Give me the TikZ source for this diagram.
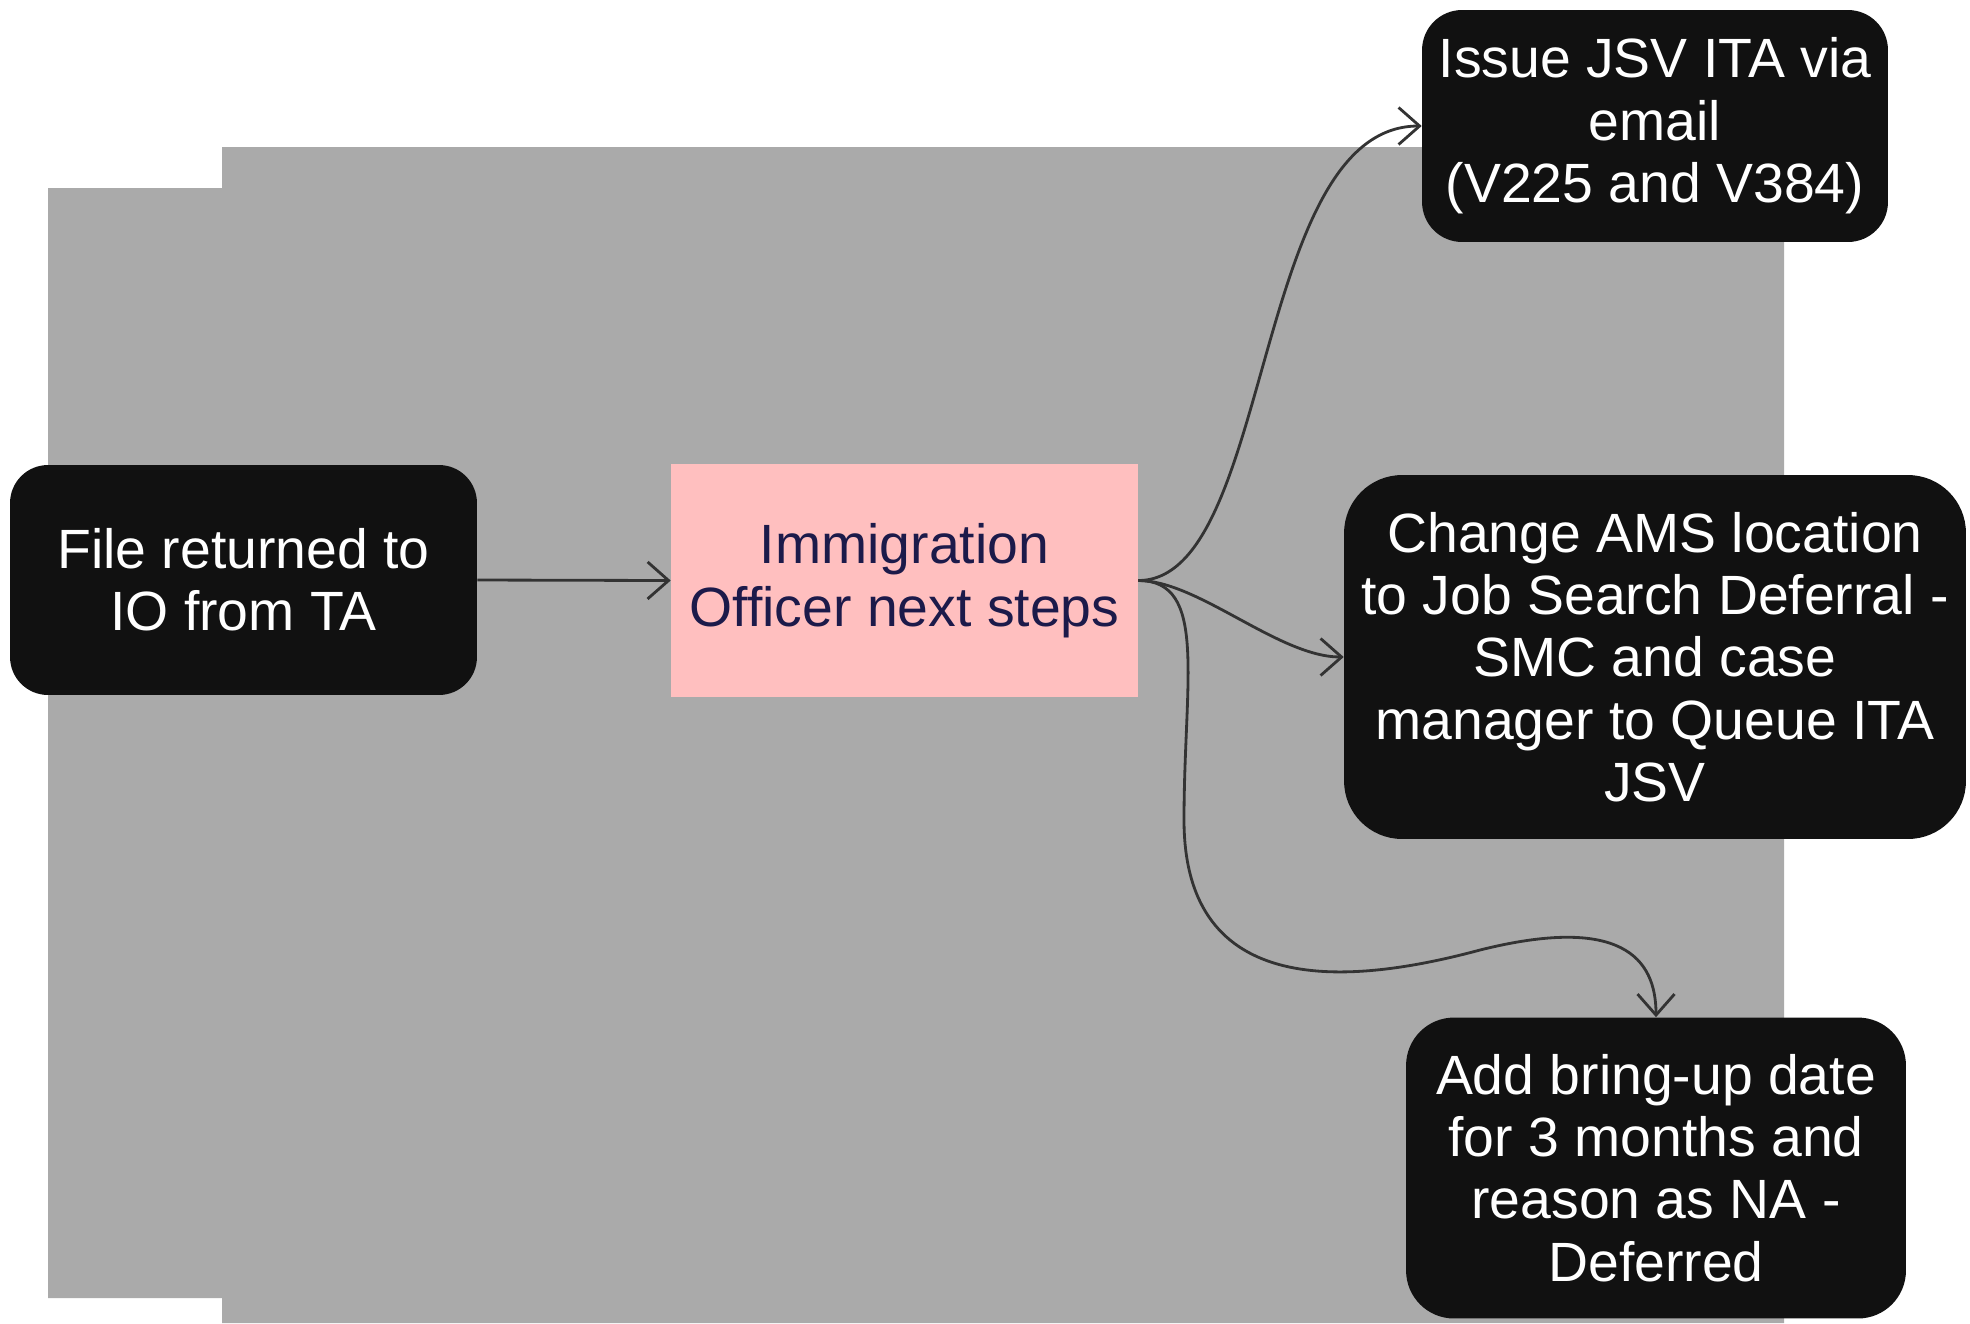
\documentclass[tikz,border=0pt]{standalone}
\usepackage{fontspec}
\setsansfont{Liberation Sans}
\usetikzlibrary{arrows.meta}
\definecolor{boxblack}{HTML}{111111}
\definecolor{pinkfill}{HTML}{FFBFBF}
\definecolor{navytext}{HTML}{1C1A4A}
\definecolor{bggray}{HTML}{AAAAAA}
\definecolor{linegray}{HTML}{333333}

\begin{document}
\begin{tikzpicture}[x=0.02cm,y=-0.02cm,font=\sffamily\fontsize{31.5}{35.5}\selectfont,
  >={Straight Barb[length=0.42cm,width=0.74cm]},
  darkbox/.style={fill=boxblack,text=white,align=center,inner sep=0pt},
  pinkbox/.style={fill=pinkfill,text=navytext,align=center,inner sep=0pt},
  link/.style={->,draw=linegray,line width=1.6pt}]
\useasboundingbox (0,0) rectangle (1970,1323);

% ===== grey backdrop =====
\fill[bggray] (48,188) -- (222,188) -- (222,147) -- (1784,147) -- (1784,1323)
  -- (222,1323) -- (222,1298) -- (48,1298) -- cycle;

% ===== boxes =====
\node[darkbox,rounded corners=0.76cm,minimum width=9.34cm,minimum height=4.6cm] (file) at (243.5,580)
  {File returned to\\IO from TA};
\node[pinkbox,minimum width=9.34cm,minimum height=4.66cm] (imm) at (904.5,580.5)
  {Immigration\\Officer next steps};
\node[darkbox,rounded corners=0.8cm,minimum width=9.32cm,minimum height=4.64cm] (issue) at (1655,126)
  {Issue JSV ITA via\\email\\(V225 and V384)};
\node[darkbox,rounded corners=1.16cm,minimum width=12.44cm,minimum height=7.28cm] (change) at (1655,657)
  {Change AMS location\\to Job Search Deferral -\\SMC and case\\manager to Queue ITA\\JSV};
\node[darkbox,rounded corners=0.96cm,minimum width=10cm,minimum height=6.02cm] (add) at (1656,1168)
  {Add bring-up date\\for 3 months and\\reason as NA -\\Deferred};

% ===== connectors =====
\coordinate (dropA) at (1184,820);
\coordinate (dropB) at (1480,950);
\draw[link] (file.east) -- (imm.west);
\draw[link] (imm.east) .. controls +(135,0) and +(-170,0) .. (issue.west);
\draw[link] (imm.east) .. controls +(60,0) and +(-65,0) .. (change.west);
\draw[link] (imm.east) .. controls +(70,0) and +(0,-140) .. (dropA)
  .. controls +(0,180) and +(-130,35) .. (dropB)
  .. controls +(140,-35) and +(0,-60) .. (add.north);

\end{tikzpicture}
\end{document}
